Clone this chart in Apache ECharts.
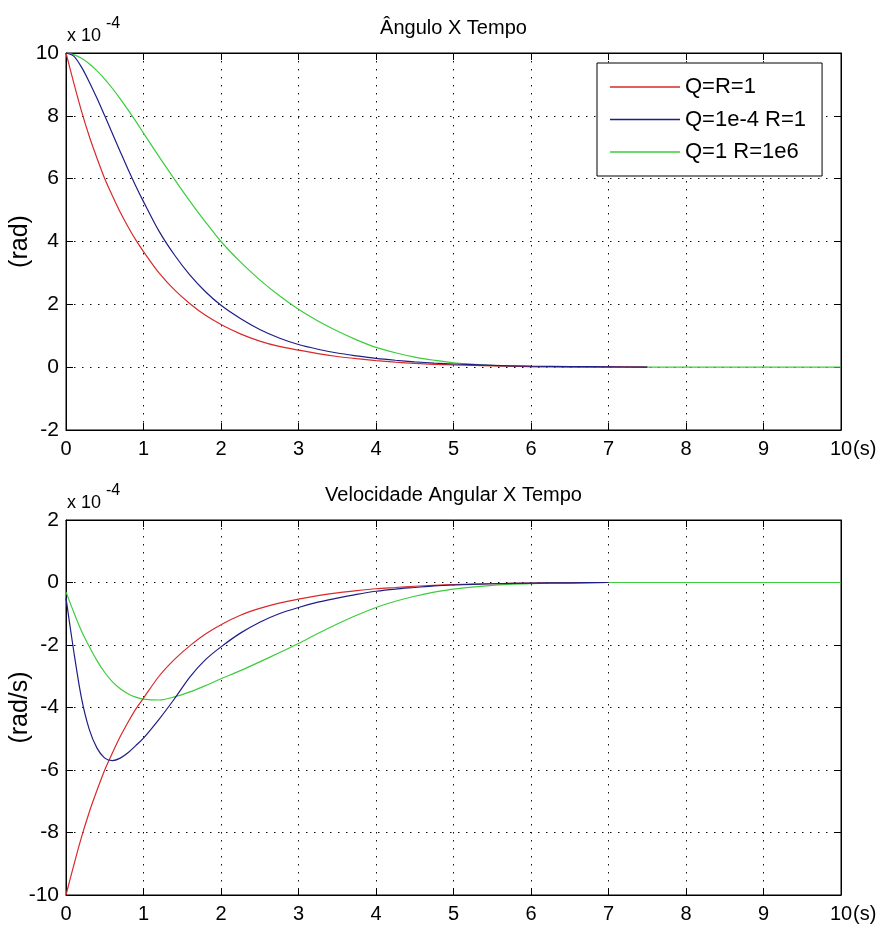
<!DOCTYPE html>
<html><head><meta charset="utf-8">
<script src="https://cdn.jsdelivr.net/npm/echarts@6/dist/echarts.min.js"></script>
<style>html,body{margin:0;padding:0;background:#fff}#c{width:883px;height:930px}</style>
</head><body><div id="c"></div>
<script>
// ---- data (values in units of 1e-4) ----
const seriesNames = ['Q=R=1', 'Q=1e-4 R=1', 'Q=1 R=1e6'];
const xTicks = [0,1,2,3,4,5,6,7,8,9,10];
const time = [0,0.1,0.2,0.3,0.4,0.5,0.6,0.7,0.8,0.9,1.0,
              1.2,1.4,1.6,1.8,2.0,
              2.25,2.5,2.75,3.0,3.25,3.5,3.75,4.0,4.25,4.5,4.75,5.0,
              5.5,6.0,6.5,7.0,7.5,8.0,9.0,10.0];

const angRed   = [10,9.05,8.15,7.35,6.65,6.0,5.45,4.93,4.47,4.05,3.68,
                  3.0,2.46,2.02,1.65,1.36,
                  1.06,0.83,0.66,0.54,0.43,0.34,0.27,0.21,0.16,0.12,0.09,0.07,
                  0.04,0.02,0.01,0.01,0];
const angBlue  = [10,9.9,9.55,9.08,8.56,8.0,7.43,6.86,6.3,5.77,5.27,
                  4.33,3.57,2.93,2.4,1.97,
                  1.55,1.2,0.93,0.72,0.57,0.45,0.36,0.28,0.22,0.17,0.13,0.1,
                  0.06,0.03,0.02,0.01,0];
const angGreen = [10,9.95,9.83,9.66,9.43,9.17,8.87,8.54,8.19,7.83,7.45,
                  6.7,5.98,5.28,4.62,4.0,
                  3.35,2.78,2.28,1.84,1.47,1.15,0.87,0.63,0.46,0.32,0.22,0.14,
                  0.06,0.02,0.01,0,0,0,0,0];

const velRed   = [-10,-9.05,-8.15,-7.35,-6.65,-6.0,-5.45,-4.93,-4.47,-4.05,-3.7,
                  -3.0,-2.46,-2.02,-1.65,-1.35,
                  -1.05,-0.83,-0.66,-0.53,-0.42,-0.33,-0.26,-0.2,-0.16,-0.12,-0.09,-0.07,
                  -0.04,-0.02,-0.01,0];
const velBlue  = [-0.5,-2.2,-3.7,-4.7,-5.3,-5.62,-5.7,-5.62,-5.45,-5.22,-4.98,
                  -4.38,-3.72,-3.02,-2.47,-2.06,
                  -1.62,-1.27,-1.0,-0.8,-0.63,-0.5,-0.38,-0.28,-0.21,-0.16,-0.11,-0.08,
                  -0.04,-0.02,-0.01,0];
const velGreen = [-0.3,-0.95,-1.55,-2.05,-2.5,-2.88,-3.18,-3.4,-3.56,-3.67,-3.73,
                  -3.76,-3.66,-3.5,-3.3,-3.08,
                  -2.82,-2.54,-2.25,-1.95,-1.63,-1.33,-1.05,-0.8,-0.6,-0.44,-0.31,-0.21,
                  -0.09,-0.04,-0.01,0,0,0,0,0];

const titles = ['Ângulo X Tempo', 'Velocidade Angular X Tempo'];
const yNames = ['(rad)', '(rad/s)'];
const yRanges = [[-2, 10], [-10, 2]];
const xUnit = '(s)';
const scaleBase = 'x 10', scaleExp = '-4';

// ---- styling ----
const FONT = "'Liberation Sans', Arial, sans-serif";
const COLORS = ['#d82a2a', '#1e1e86', '#3ccc3c'];
const gridBoxes = [{left:66, top:53, width:775, height:377}, {left:66, top:520, width:775, height:375}];

const zip = (t, v) => v.map((y, i) => [t[i], y]);
const frameLine = {show:true, onZero:false, lineStyle:{color:'#000', width:1}};
const tick = {show:true, inside:true, length:7, lineStyle:{color:'#000', width:1}};
const dotted = {show:true, lineStyle:{color:'#111', width:1, type:[1.5, 6.5]}};

const xAxis = [], yAxis = [], series = [], grid = [], title = [], graphic = [];
gridBoxes.forEach((g, gi) => {
  grid.push(Object.assign({show:true, borderColor:'#000', borderWidth:1, backgroundColor:'#fff',
    containLabel:false, outerBoundsMode:'none'}, g));
  xAxis.push({type:'value', gridIndex:gi, min:xTicks[0], max:xTicks[xTicks.length-1], interval:1, position:'bottom',
    axisLine:frameLine, axisTick:tick, splitLine:dotted,
    axisLabel:{color:'#000', fontSize:20, fontFamily:FONT, margin:9},
    name:xUnit, nameLocation:'end', nameGap:12, nameMoveOverlap:false,
    nameTextStyle:{color:'#000', fontSize:20, fontFamily:FONT, align:'left', verticalAlign:'top', padding:[9,0,0,0]}});
  xAxis.push({type:'value', gridIndex:gi, min:0, max:10, interval:1, position:'top',
    axisLine:frameLine, axisTick:tick, axisLabel:{show:false}, splitLine:{show:false}});
  yAxis.push({type:'value', gridIndex:gi, min:yRanges[gi][0], max:yRanges[gi][1], interval:2, position:'left',
    axisLine:frameLine, axisTick:tick, splitLine:dotted,
    axisLabel:{color:'#000', fontSize:21, fontFamily:FONT, margin:7},
    name:yNames[gi], nameLocation:'middle', nameGap:33, nameMoveOverlap:false,
    nameTextStyle:{color:'#000', fontSize:25, fontFamily:FONT}});
  yAxis.push({type:'value', gridIndex:gi, min:yRanges[gi][0], max:yRanges[gi][1], interval:2, position:'right',
    axisLine:frameLine, axisTick:tick, axisLabel:{show:false}, splitLine:{show:false}});
  title.push({text:titles[gi], left:g.left + g.width/2, textAlign:'center', top:g.top - 35, padding:0,
    textStyle:{color:'#000', fontSize:20, fontWeight:'normal', fontFamily:FONT}});
  graphic.push({type:'text', left:g.left + 1, top:g.top - 26, style:{text:scaleBase, fontSize:18, fontFamily:FONT, fill:'#000'}});
  graphic.push({type:'text', left:g.left + 40, top:g.top - 37, style:{text:scaleExp, fontSize:16, fontFamily:FONT, fill:'#000'}});
});

const sets = [[angRed, angBlue, angGreen], [velRed, velBlue, velGreen]];
const drawOrder = [2, 0, 1];
sets.forEach((arrs, gi) => {
  drawOrder.forEach((si, k) => {
    series.push({type:'line', name:seriesNames[si], xAxisIndex:gi*2, yAxisIndex:gi*2,
      data:zip(time, arrs[si]), symbol:'none', showSymbol:false, smooth:0.3,
      lineStyle:{color:COLORS[si], width:1.2}, itemStyle:{color:COLORS[si]}, z:2 + k, animation:false});
  });
});

const chart = echarts.init(document.getElementById('c'), null, {renderer:'canvas'});
chart.setOption({
  animation:false,
  backgroundColor:'#fff',
  title, grid, xAxis, yAxis, series, graphic,
  legend:{data:seriesNames, orient:'vertical', left:597, top:63,
    icon:'rect', itemWidth:70, itemHeight:1.5, itemGap:10.5,
    padding:[13,16,13,13], borderColor:'#000', borderWidth:1, backgroundColor:'#fff',
    textStyle:{color:'#000', fontSize:22, fontFamily:FONT, lineHeight:21}, selectedMode:false}
});
</script></body></html>
